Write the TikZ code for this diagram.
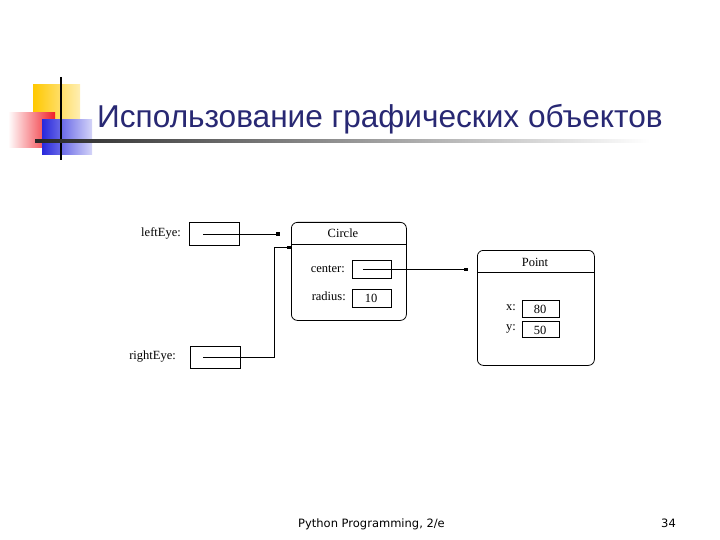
\documentclass[tikz,border=0pt]{standalone}
\usepackage{fontspec}
\setmainfont{Liberation Serif}
\newfontfamily\titlefont{Liberation Sans}
\newfontfamily\footfont{DejaVu Sans}
\usetikzlibrary{arrows.meta}
\definecolor{titleblue}{RGB}{40,40,115}
\definecolor{logoyellow}{RGB}{255,200,0}
\definecolor{logored}{RGB}{240,30,40}
\definecolor{logoblue}{RGB}{40,40,220}
\begin{document}
\begin{tikzpicture}[x=1pt,y=-1pt,
  box/.style={draw,line width=0.8pt,anchor=north west,inner sep=0pt},
  obj/.style={draw,line width=0.8pt,rounded corners=6pt,anchor=north west,inner sep=0pt},
  lbl/.style={font=\fontsize{12.5}{14}\selectfont,anchor=east,inner sep=0pt},
  txt/.style={font=\fontsize{12.5}{14}\selectfont,inner sep=0pt},
  conn/.style={line width=0.8pt,-{Rectangle[length=4pt,width=3pt]}}]
\useasboundingbox (0,0) rectangle (720,540);
% logo
\shade[left color=logoyellow,right color=logoyellow!30] (33,85) rectangle (80,120);
\shade[left color=white,right color=logored] (8,113) rectangle (55,148);
\shade[left color=logoblue,right color=logoblue!20] (42,120) rectangle (92,155);
\draw[line width=2pt] (61,77) -- (61,160);
\shade[left color=black!85,right color=white] (35,140) rectangle (650,142.5);
% title
\node[anchor=base west,inner sep=0pt,text=titleblue,font=\titlefont\fontsize{31.6}{36}\selectfont] (title) at (97,128) {Использование графических объектов};
% footer
\node[anchor=base west,inner sep=0pt,font=\footfont\fontsize{11.5}{13}\selectfont] (foot) at (298,527) {Python Programming, 2/e};
\node[anchor=base west,inner sep=0pt,font=\footfont\fontsize{11.5}{13}\selectfont] (page) at (661,527) {34};
% left/right eye
\node[lbl] (lel) at (181,233) {leftEye:};
\node[box,minimum width=50pt,minimum height=23pt] (lefteye) at (189,222) {};
\node[lbl] (rel) at (176,357) {rightEye:};
\node[box,minimum width=50pt,minimum height=22pt] (righteye) at (190,346) {};
% circle object
\node[obj,minimum width=115pt,minimum height=98pt] (circle) at (291,222) {};
\draw[line width=0.8pt] (circle.west |- 0,244) -- (circle.east |- 0,244);
\node[txt] (ctitle) at (343,233) {Circle};
\node[lbl] (cenl) at (345,269) {center:};
\node[box,minimum width=39pt,minimum height=18pt] (center) at (352,260) {};
\node[lbl] (radl) at (346,296) {radius:};
\node[box,minimum width=39pt,minimum height=18pt] (radius) at (352,289) {};
\node[txt] (rval) at (371,298) {10};
% point object
\node[obj,minimum width=117pt,minimum height=115pt] (point) at (477,250) {};
\draw[line width=0.8pt] (point.west |- 0,272) -- (point.east |- 0,272);
\node[txt] (ptitle) at (535,262) {Point};
\node[lbl] (xl) at (516,308) {x:};
\node[box,minimum width=37pt,minimum height=17pt] (xbox) at (522,300) {};
\node[txt] (xval) at (540,309) {80};
\node[lbl] (yl) at (516,329) {y:};
\node[box,minimum width=37pt,minimum height=16pt] (ybox) at (522,321) {};
\node[txt] (yval) at (540,330) {50};
% connectors
\draw[conn] ([xshift=-11pt]lefteye.center) -- ([xshift=-11pt]lefteye.center -| circle.west);
\coordinate (knee) at (274,247);
\draw[conn] ([xshift=-12pt]righteye.center) -| (knee) -- (knee -| circle.west);
\draw[conn] ([xshift=-9pt]center.center) -- ([xshift=-9pt]center.center -| point.west);
\end{tikzpicture}
\end{document}
